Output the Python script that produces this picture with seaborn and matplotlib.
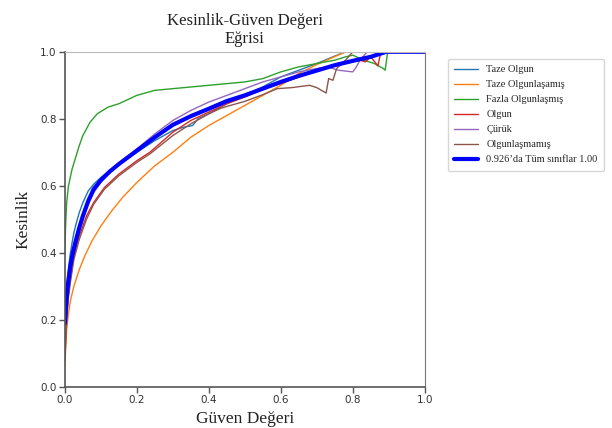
import matplotlib
matplotlib.use("Agg")
import matplotlib.pyplot as plt
import seaborn as sns

# precision-confidence curves, values
taze_olgun_x = [0, 0.002, 0.005, 0.009, 0.014, 0.02, 0.025, 0.032, 0.04, 0.05, 0.065, 0.08, 0.1, 0.125,
                0.15, 0.2, 0.25, 0.3, 0.33, 0.355, 0.37, 0.4, 0.45, 0.5, 0.55, 0.6, 0.65, 0.7, 0.745,
                0.78, 1.0]
taze_olgun_y = [0.2, 0.24, 0.29, 0.34, 0.39, 0.43, 0.46, 0.49, 0.52, 0.55, 0.585, 0.605, 0.625, 0.645,
                0.665, 0.70, 0.735, 0.765, 0.775, 0.78, 0.80, 0.815, 0.845, 0.87, 0.895, 0.925, 0.945,
                0.965, 0.985, 1.0, 1.0]

taze_olgunlasamis_x = [0, 0.002, 0.005, 0.01, 0.016, 0.025, 0.04, 0.055, 0.075, 0.1, 0.13, 0.16, 0.2,
                       0.25, 0.3, 0.35, 0.4, 0.45, 0.5, 0.55, 0.6, 0.65, 0.7, 0.755, 0.78, 1.0]
taze_olgunlasamis_y = [0.06, 0.11, 0.17, 0.22, 0.26, 0.30, 0.35, 0.39, 0.435, 0.48, 0.525, 0.565, 0.61,
                       0.66, 0.70, 0.745, 0.78, 0.81, 0.84, 0.87, 0.9, 0.935, 0.962, 0.988, 1.0, 1.0]

fazla_olgunlasmis_x = [0, 0.002, 0.005, 0.01, 0.02, 0.03, 0.04, 0.05, 0.07, 0.09, 0.12, 0.15, 0.2, 0.25,
                       0.3, 0.4, 0.5, 0.55, 0.6, 0.65, 0.7, 0.75, 0.78, 0.8, 0.83, 0.86, 0.885, 0.89,
                       0.897, 1.0]
fazla_olgunlasmis_y = [0.4, 0.48, 0.55, 0.6, 0.65, 0.685, 0.72, 0.75, 0.79, 0.815, 0.835, 0.845, 0.87,
                       0.885, 0.89, 0.90, 0.91, 0.92, 0.94, 0.955, 0.965, 0.975, 0.985, 0.99, 0.975, 0.965,
                       0.95, 0.945, 1.0, 1.0]

olgun_x = [0, 0.002, 0.005, 0.009, 0.015, 0.025, 0.04, 0.06, 0.08, 0.11, 0.15, 0.2, 0.236, 0.3, 0.35,
           0.4, 0.45, 0.5, 0.55, 0.6, 0.65, 0.7, 0.75, 0.78, 0.82, 0.835, 0.85, 0.87, 0.878, 1.0]
olgun_y = [0.08, 0.14, 0.21, 0.27, 0.32, 0.39, 0.45, 0.51, 0.55, 0.595, 0.635, 0.675, 0.70, 0.76, 0.795,
           0.82, 0.845, 0.865, 0.888, 0.905, 0.925, 0.945, 0.96, 0.965, 0.975, 0.97, 0.985, 0.958,
           1.0, 1.0]

curuk_x = [0, 0.002, 0.005, 0.009, 0.014, 0.02, 0.03, 0.04, 0.05, 0.065, 0.08, 0.1, 0.125, 0.15, 0.2,
           0.25, 0.3, 0.35, 0.4, 0.45, 0.5, 0.55, 0.6, 0.65, 0.7, 0.73, 0.76, 0.8, 0.81, 0.82, 0.84, 1.0]
curuk_y = [0.2, 0.23, 0.27, 0.31, 0.35, 0.39, 0.43, 0.465, 0.50, 0.545, 0.58, 0.61, 0.64, 0.665, 0.71,
           0.755, 0.795, 0.825, 0.85, 0.87, 0.89, 0.91, 0.925, 0.94, 0.95, 0.955, 0.945, 0.94, 0.955,
           0.975, 1.0, 1.0]

olgunlasmamis_x = [0, 0.002, 0.005, 0.009, 0.015, 0.025, 0.04, 0.06, 0.08, 0.11, 0.15, 0.2, 0.236, 0.3,
                   0.35, 0.4, 0.43, 0.45, 0.5, 0.55, 0.59, 0.63, 0.68, 0.7, 0.726, 0.733, 0.745, 0.755,
                   0.765, 0.78, 0.8, 1.0]
olgunlasmamis_y = [0.08, 0.13, 0.2, 0.26, 0.31, 0.38, 0.44, 0.50, 0.545, 0.59, 0.63, 0.67, 0.695, 0.75,
                   0.785, 0.815, 0.83, 0.837, 0.852, 0.872, 0.89, 0.893, 0.90, 0.893, 0.877, 0.92, 0.915,
                   0.95, 0.96, 0.975, 1.0, 1.0]

tum_x = [0, 0.002, 0.004, 0.007, 0.01, 0.015, 0.022, 0.03, 0.04, 0.05, 0.065, 0.08, 0.1, 0.125, 0.15,
         0.175, 0.2, 0.25, 0.3, 0.35, 0.4, 0.45, 0.5, 0.55, 0.6, 0.65, 0.7, 0.75, 0.8, 0.85, 0.893, 1.0]
tum_y = [0.19, 0.22, 0.25, 0.29, 0.32, 0.36, 0.40, 0.435, 0.475, 0.51, 0.555, 0.59, 0.617, 0.643, 0.665,
         0.685, 0.705, 0.745, 0.782, 0.808, 0.83, 0.853, 0.87, 0.89, 0.91, 0.928, 0.944, 0.96, 0.973,
         0.985, 1.0, 1.0]

siniflar = ["Taze Olgun", "Taze Olgunlaşamış", "Fazla Olgunlaşmış", "Olgun", "Çürük", "Olgunlaşmamış"]
tum_etiket = "0.926’da Tüm sınıflar 1.00"

sns.set_style("ticks")
plt.rcParams["font.family"] = ["Liberation Serif", "DejaVu Serif"]

fig = plt.figure(figsize=(6.12, 4.28), dpi=100)
ax = fig.add_axes([0.106, 0.096, 0.588, 0.783])

series = [(taze_olgun_x, taze_olgun_y), (taze_olgunlasamis_x, taze_olgunlasamis_y),
          (fazla_olgunlasmis_x, fazla_olgunlasmis_y), (olgun_x, olgun_y),
          (curuk_x, curuk_y), (olgunlasmamis_x, olgunlasmamis_y)]
renkler = sns.color_palette("tab10", 6)
for (xs, ys), ad, c in zip(series, siniflar, renkler):
    sns.lineplot(x=xs, y=ys, ax=ax, color=c, linewidth=1.0, label=ad, sort=False, estimator=None)
sns.lineplot(x=tum_x, y=tum_y, ax=ax, color="blue", linewidth=3, label=tum_etiket, sort=False, estimator=None)

ax.set_xlim(0, 1)
ax.set_ylim(0, 1)
ax.set_xticks([0, 0.2, 0.4, 0.6, 0.8, 1.0])
ax.set_yticks([0, 0.2, 0.4, 0.6, 0.8, 1.0])
for lab in ax.get_xticklabels() + ax.get_yticklabels():
    lab.set_family("DejaVu Sans")
    lab.set_fontsize(7.5)
    lab.set_color("#333333")
ax.tick_params(length=4, width=1, color="#555555", pad=2)

for s in ["left", "bottom"]:
    ax.spines[s].set_color("#555555")
    ax.spines[s].set_linewidth(1.2)
ax.spines["right"].set_color("#777777")
ax.spines["top"].set_color("#bbbbbb")

ax.set_title("Kesinlik-Güven Değeri\nEğrisi", fontsize=12, color="#222222", pad=6)
ax.set_xlabel("Güven Değeri", fontsize=12.5, color="#222222", labelpad=4)
ax.set_ylabel("Kesinlik", fontsize=12.5, color="#222222", labelpad=6)

ax.legend(loc="upper left", bbox_to_anchor=(1.05, 0.995), fontsize=7.5, frameon=True,
          edgecolor="#cccccc", handlelength=2.3, borderpad=0.6, labelspacing=0.55)

fig.savefig("out.png", dpi=100)
